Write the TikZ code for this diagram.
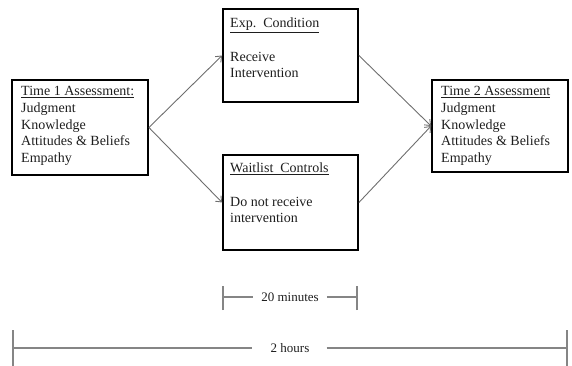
\documentclass[tikz,border=0pt]{standalone}
\usepackage{fontspec}
\setmainfont{Liberation Serif}
\usetikzlibrary{arrows.meta}
\definecolor{txt}{HTML}{1E1E1E}
\definecolor{arr}{HTML}{6E6E6E}
\definecolor{brk}{HTML}{858585}
\begin{document}
\begin{tikzpicture}[x=1pt,y=-1pt,
  box/.style={draw=black,line width=1.8pt,inner sep=0pt},
  boxtext/.style={anchor=north west,inner sep=0pt,align=left,text=txt,font=\fontsize{14}{16.8}\selectfont},
  flow/.style={draw=arr,line width=0.9pt,-{Straight Barb[length=5pt,width=8pt]}},
  brack/.style={draw=brk,line width=1.6pt},
  brlabel/.style={inner sep=0pt,text=txt,font=\fontsize{13}{15}\selectfont}]
\useasboundingbox (0,0) rectangle (572,366);
% boxes
\node[box,minimum width=136pt,minimum height=95pt] (L) at (80,127.5) {};
\node[box,minimum width=135pt,minimum height=93pt] (E) at (290.5,55.5) {};
\node[box,minimum width=135pt,minimum height=95pt] (W) at (290.5,202.5) {};
\node[box,minimum width=136pt,minimum height=92pt] (R) at (500,126) {};
% texts
\node[boxtext] (Lt) at (21,86) {\underline{Time 1 Assessment:}\\Judgment\\Knowledge\\Attitudes \& Beliefs\\Empathy};
\node[boxtext] (Et) at (230,17.5) {\underline{Exp.\ \ Condition}\\[16.8pt]Receive\\Intervention};
\node[boxtext] (Wt) at (230,162.5) {\underline{Waitlist\ \ Controls}\\[16.8pt]Do not receive\\intervention};
\node[boxtext] (Rt) at (441,86) {\underline{Time 2 Assessment}\\Judgment\\Knowledge\\Attitudes \& Beliefs\\Empathy};
% connectors
\draw[flow] (L.east) -- (E.west);
\draw[flow] (L.east) -- (W.west);
\draw[flow] (E.east) -- (R.west);
\draw[flow] (W.east) -- (R.west);
% 20 minutes
\coordinate (m1) at (223,297);
\coordinate (m2) at (357,297);
\node[brlabel] (mt) at (290,297) {20 minutes};
\draw[brack] (m1) -- ([xshift=-8pt]mt.west);
\draw[brack] ([xshift=8pt]mt.east) -- (m2);
\draw[brack] ([yshift=-13pt]m1) -- ([yshift=11pt]m1);
\draw[brack] ([yshift=-13pt]m2) -- ([yshift=11pt]m2);
% 2 hours
\coordinate (h1) at (13,348);
\coordinate (h2) at (567,348);
\node[brlabel] (ht) at (290,348) {2 hours};
\draw[brack] (h1) -- ([xshift=-18pt]ht.west);
\draw[brack] ([xshift=17pt]ht.east) -- (h2);
\draw[brack] ([yshift=-23pt]h1) -- ([yshift=18pt]h1);
\draw[brack] ([yshift=-23pt]h2) -- ([yshift=18pt]h2);
\end{tikzpicture}
\end{document}
